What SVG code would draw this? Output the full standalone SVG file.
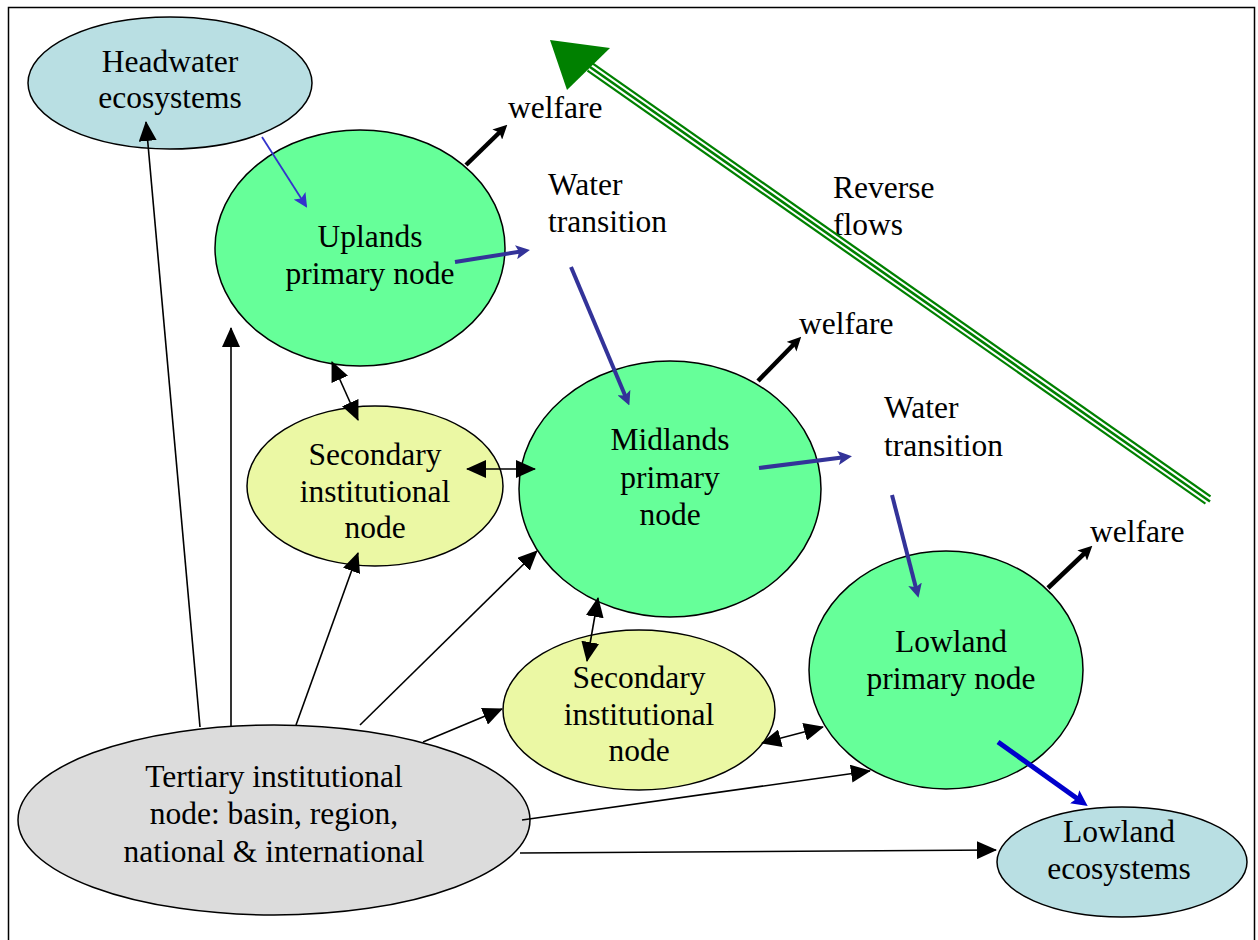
<svg xmlns="http://www.w3.org/2000/svg" width="1258" height="940" viewBox="0 0 1258 940">
<style>
  .c { text-anchor: middle; }
  .node { stroke: #000; stroke-width: 1.5; }
  .eco { fill: #b9dfe3; }
  .prim { fill: #66ff99; }
  .sec { fill: #ebf8a4; }
  .ter { fill: #dcdcdc; }
  .thin { stroke: #000; stroke-width: 1.6; fill: none; }
  .wel { stroke: #000; stroke-width: 4.5; fill: none; }
  .blue { stroke: #333399; stroke-width: 4; fill: none; }
</style>
<defs>
  <marker id="ah" viewBox="0 0 20 18" refX="19" refY="9" markerWidth="20" markerHeight="18" markerUnits="userSpaceOnUse" orient="auto-start-reverse">
    <path d="M0,0 L20,9 L0,18 z" fill="#000"/>
  </marker>
  <marker id="aw" viewBox="0 0 14 14" refX="8" refY="7" markerWidth="14" markerHeight="14" markerUnits="userSpaceOnUse" orient="auto">
    <path d="M0,0 L14,7 L0,14 L3,7 z" fill="#000"/>
  </marker>
  <marker id="ab" viewBox="0 0 14 14" refX="8" refY="7" markerWidth="14" markerHeight="14" markerUnits="userSpaceOnUse" orient="auto">
    <path d="M0,0 L14,7 L0,14 L3,7 z" fill="#333399"/>
  </marker>
  <marker id="ab2" viewBox="0 0 14 14" refX="12" refY="7" markerWidth="14" markerHeight="14" markerUnits="userSpaceOnUse" orient="auto">
    <path d="M0,0 L14,7 L0,14 L3,7 z" fill="#3333cc"/>
  </marker>
  <marker id="ab3" viewBox="0 0 16 16" refX="9" refY="8" markerWidth="16" markerHeight="16" markerUnits="userSpaceOnUse" orient="auto">
    <path d="M0,0 L16,8 L0,16 L3,8 z" fill="#0000cc"/>
  </marker>
</defs>
<rect x="8.5" y="7.5" width="1246" height="945" fill="#fff" stroke="#000" stroke-width="1.5"/>

<g font-family="Liberation Serif, Times New Roman, Tinos, Noto Serif, DejaVu Serif, serif" font-size="31.5" fill="#000">
<g id="headwater">
  <ellipse class="node eco" cx="170" cy="83" rx="142" ry="66"/>
  <text class="c" x="170" y="72">Headwater</text>
  <text class="c" x="170" y="108">ecosystems</text>
</g>
<g id="uplands">
  <ellipse class="node prim" cx="360" cy="248" rx="145" ry="118"/>
  <text class="c" x="370" y="247">Uplands</text>
  <text class="c" x="370" y="284">primary node</text>
</g>
<g id="secondary1">
  <ellipse class="node sec" cx="375" cy="486" rx="128" ry="80"/>
  <text class="c" x="375" y="465">Secondary</text>
  <text class="c" x="375" y="502">institutional</text>
  <text class="c" x="375" y="538">node</text>
</g>
<g id="midlands">
  <ellipse class="node prim" cx="670" cy="489" rx="151" ry="128"/>
  <text class="c" x="670" y="450">Midlands</text>
  <text class="c" x="670" y="488">primary</text>
  <text class="c" x="670" y="525">node</text>
</g>
<g id="secondary2">
  <ellipse class="node sec" cx="639" cy="710" rx="136" ry="80"/>
  <text class="c" x="639" y="688">Secondary</text>
  <text class="c" x="639" y="725">institutional</text>
  <text class="c" x="639" y="761">node</text>
</g>
<g id="lowland">
  <ellipse class="node prim" cx="946" cy="670" rx="137" ry="119"/>
  <text class="c" x="951" y="652">Lowland</text>
  <text class="c" x="951" y="689">primary node</text>
</g>
<g id="lowland-eco">
  <ellipse class="node eco" cx="1122" cy="862" rx="125" ry="55"/>
  <text class="c" x="1119" y="842">Lowland</text>
  <text class="c" x="1119" y="879">ecosystems</text>
</g>
<g id="tertiary">
  <ellipse class="node ter" cx="274" cy="820" rx="256" ry="95"/>
  <text class="c" x="274" y="787">Tertiary institutional</text>
  <text class="c" x="274" y="824">node: basin, region,</text>
  <text class="c" x="274" y="862">national &amp; international</text>
</g>

<g id="labels">
  <text x="508" y="118">welfare</text>
  <text x="548" y="195">Water</text>
  <text x="548" y="232">transition</text>
  <text x="833" y="198">Reverse</text>
  <text x="833" y="235">flows</text>
  <text x="799" y="334">welfare</text>
  <text x="884" y="418">Water</text>
  <text x="884" y="456">transition</text>
  <text x="1090" y="542">welfare</text>
</g>
</g>

<g id="connectors">
  <g id="reverse-flows">
    <line x1="1208" y1="500" x2="590" y2="67" stroke="#008000" stroke-width="11"/>
    <line x1="1210" y1="501.5" x2="590" y2="67" stroke="#fff" stroke-width="6.5"/>
    <line x1="1210" y1="501.5" x2="590" y2="67" stroke="#008000" stroke-width="2.6"/>
    <path d="M550,40 L610,48 L567,90 z" fill="#008000"/>
  </g>
  <line x1="262" y1="137" x2="306" y2="206" stroke="#3333cc" stroke-width="1.8" marker-end="url(#ab2)"/>
  <line class="blue" x1="455" y1="262" x2="524" y2="251" marker-end="url(#ab)"/>
  <line class="blue" x1="571" y1="267" x2="627" y2="400" marker-end="url(#ab)"/>
  <line class="blue" x1="759" y1="468" x2="846" y2="457" marker-end="url(#ab)"/>
  <line class="blue" x1="892" y1="495" x2="917" y2="592" stroke-width="3" marker-end="url(#ab)"/>
  <line x1="998" y1="742" x2="1082" y2="802" stroke="#0000cc" stroke-width="5" marker-end="url(#ab3)"/>
  <line class="wel" x1="466" y1="165" x2="503" y2="129" marker-end="url(#aw)"/>
  <line class="wel" x1="758" y1="381" x2="797" y2="341" marker-end="url(#aw)"/>
  <line class="wel" x1="1048" y1="588" x2="1088" y2="550" marker-end="url(#aw)"/>
  <line class="thin" x1="200" y1="727" x2="146" y2="122" marker-end="url(#ah)"/>
  <line class="thin" x1="231" y1="727" x2="231" y2="328" marker-end="url(#ah)"/>
  <line class="thin" x1="296" y1="725" x2="358" y2="553" marker-end="url(#ah)"/>
  <line class="thin" x1="360" y1="725" x2="537" y2="551" marker-end="url(#ah)"/>
  <line class="thin" x1="423" y1="742" x2="502" y2="709" marker-end="url(#ah)"/>
  <line class="thin" x1="522" y1="820" x2="870" y2="771" marker-end="url(#ah)"/>
  <line class="thin" x1="520" y1="853" x2="996" y2="850" marker-end="url(#ah)"/>
  <line class="thin" x1="332" y1="362" x2="358" y2="420" marker-start="url(#ah)" marker-end="url(#ah)"/>
  <line class="thin" x1="467" y1="469" x2="535" y2="469" marker-start="url(#ah)" marker-end="url(#ah)"/>
  <line class="thin" x1="598" y1="598" x2="587" y2="661" marker-start="url(#ah)" marker-end="url(#ah)"/>
  <line class="thin" x1="762" y1="743" x2="823" y2="727" marker-start="url(#ah)" marker-end="url(#ah)"/>
</g>
</svg>
